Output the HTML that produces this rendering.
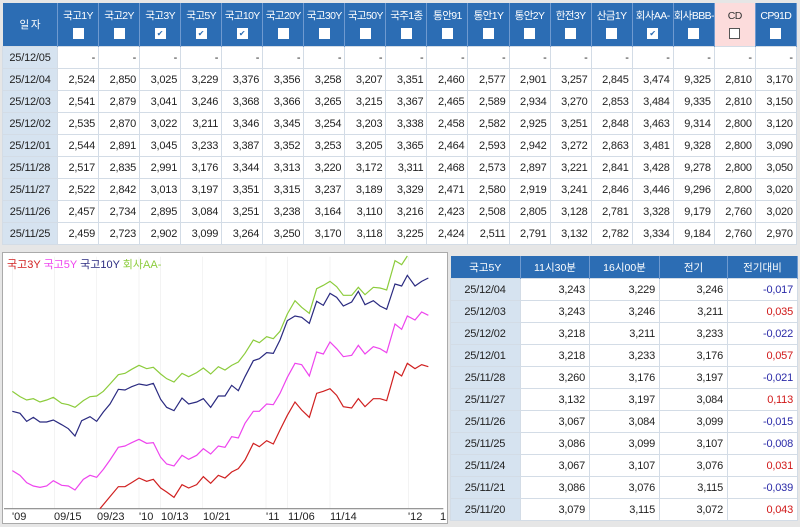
<!DOCTYPE html>
<html><head><meta charset="utf-8">
<style>
body{margin:0;width:800px;height:527px;background:#e6e6e6;font-family:"Liberation Sans","Noto Sans CJK KR",sans-serif;font-size:11px;overflow:hidden;position:relative;color:#222}
table{border-collapse:collapse;table-layout:fixed;position:absolute}
td,th{padding:0 3px;white-space:nowrap;overflow:hidden}
td{letter-spacing:-0.2px}
#t1{left:2px;top:3px;width:794px}
#t1 th{background:#2c6db4;color:#fff;font-weight:normal;height:43px;border-right:1px solid #6f9ad0;text-align:center;line-height:18px;padding:0;font-size:10.5px;letter-spacing:-0.6px}
#t1 th.cd{background:#fcdcdc;color:#333}
#t1 td{height:21px;border:1px solid #d3dce6;text-align:right;background:#fff}
#t1 td.d,#t2 td.d{background:#d6e3f0;text-align:center}
.cb{display:inline-block;width:9px;height:9px;background:#fff;border:1px solid #fff;font-size:8px;line-height:9px;color:#2c6db4;vertical-align:middle;letter-spacing:0}
.cd .cb{border:1px solid #555;background:#fff}
#t2{left:450px;top:256px;width:347px}
#t2 th{background:#2c6db4;color:#fff;font-weight:normal;height:22px;border-right:1px solid #6f9ad0;text-align:center;padding:0;font-size:10.5px}
#t2 td{height:21px;border:1px solid #d3dce6;text-align:right;background:#fff;padding-right:4px}
.r{color:#d01818}.b{color:#2a2aa8}
#chart{position:absolute;left:2px;top:252px;width:444px;height:270px;background:#fff;border:1px solid #aaa}
</style></head><body>
<table id="t1">
<colgroup><col style="width:55px"><col span="18" style="width:41.05px"></colgroup>
<tr><th>일 자</th><th>국고1Y<br><span class="cb"></span></th><th>국고2Y<br><span class="cb"></span></th><th>국고3Y<br><span class="cb">✔</span></th><th>국고5Y<br><span class="cb">✔</span></th><th>국고10Y<br><span class="cb">✔</span></th><th>국고20Y<br><span class="cb"></span></th><th>국고30Y<br><span class="cb"></span></th><th>국고50Y<br><span class="cb"></span></th><th>국주1종<br><span class="cb"></span></th><th>통안91<br><span class="cb"></span></th><th>통안1Y<br><span class="cb"></span></th><th>통안2Y<br><span class="cb"></span></th><th>한전3Y<br><span class="cb"></span></th><th>산금1Y<br><span class="cb"></span></th><th>회사AA-<br><span class="cb">✔</span></th><th>회사BBB-<br><span class="cb"></span></th><th class="cd">CD<br><span class="cb"></span></th><th>CP91D<br><span class="cb"></span></th></tr>
<tr><td class="d">25/12/05</td><td>-</td><td>-</td><td>-</td><td>-</td><td>-</td><td>-</td><td>-</td><td>-</td><td>-</td><td>-</td><td>-</td><td>-</td><td>-</td><td>-</td><td>-</td><td>-</td><td>-</td><td>-</td></tr>
<tr><td class="d">25/12/04</td><td>2,524</td><td>2,850</td><td>3,025</td><td>3,229</td><td>3,376</td><td>3,356</td><td>3,258</td><td>3,207</td><td>3,351</td><td>2,460</td><td>2,577</td><td>2,901</td><td>3,257</td><td>2,845</td><td>3,474</td><td>9,325</td><td>2,810</td><td>3,170</td></tr>
<tr><td class="d">25/12/03</td><td>2,541</td><td>2,879</td><td>3,041</td><td>3,246</td><td>3,368</td><td>3,366</td><td>3,265</td><td>3,215</td><td>3,367</td><td>2,465</td><td>2,589</td><td>2,934</td><td>3,270</td><td>2,853</td><td>3,484</td><td>9,335</td><td>2,810</td><td>3,150</td></tr>
<tr><td class="d">25/12/02</td><td>2,535</td><td>2,870</td><td>3,022</td><td>3,211</td><td>3,346</td><td>3,345</td><td>3,254</td><td>3,203</td><td>3,338</td><td>2,458</td><td>2,582</td><td>2,925</td><td>3,251</td><td>2,848</td><td>3,463</td><td>9,314</td><td>2,800</td><td>3,120</td></tr>
<tr><td class="d">25/12/01</td><td>2,544</td><td>2,891</td><td>3,045</td><td>3,233</td><td>3,387</td><td>3,352</td><td>3,253</td><td>3,205</td><td>3,365</td><td>2,464</td><td>2,593</td><td>2,942</td><td>3,272</td><td>2,863</td><td>3,481</td><td>9,328</td><td>2,800</td><td>3,090</td></tr>
<tr><td class="d">25/11/28</td><td>2,517</td><td>2,835</td><td>2,991</td><td>3,176</td><td>3,344</td><td>3,313</td><td>3,220</td><td>3,172</td><td>3,311</td><td>2,468</td><td>2,573</td><td>2,897</td><td>3,221</td><td>2,841</td><td>3,428</td><td>9,278</td><td>2,800</td><td>3,050</td></tr>
<tr><td class="d">25/11/27</td><td>2,522</td><td>2,842</td><td>3,013</td><td>3,197</td><td>3,351</td><td>3,315</td><td>3,237</td><td>3,189</td><td>3,329</td><td>2,471</td><td>2,580</td><td>2,919</td><td>3,241</td><td>2,846</td><td>3,446</td><td>9,296</td><td>2,800</td><td>3,020</td></tr>
<tr><td class="d">25/11/26</td><td>2,457</td><td>2,734</td><td>2,895</td><td>3,084</td><td>3,251</td><td>3,238</td><td>3,164</td><td>3,110</td><td>3,216</td><td>2,423</td><td>2,508</td><td>2,805</td><td>3,128</td><td>2,781</td><td>3,328</td><td>9,179</td><td>2,760</td><td>3,020</td></tr>
<tr><td class="d">25/11/25</td><td>2,459</td><td>2,723</td><td>2,902</td><td>3,099</td><td>3,264</td><td>3,250</td><td>3,170</td><td>3,118</td><td>3,225</td><td>2,424</td><td>2,511</td><td>2,791</td><td>3,132</td><td>2,782</td><td>3,334</td><td>9,184</td><td>2,760</td><td>2,970</td></tr>
</table>

<div id="chart"></div>
<svg style="position:absolute;left:0;top:0" width="800" height="527">
<g transform="translate(0,230) scale(0.33333)" fill="none" stroke-width="1.2">
<g stroke="#e2e2e2" vector-effect="non-scaling-stroke">
<line x1="37" y1="80" x2="37" y2="836"/><line x1="163" y1="80" x2="163" y2="836"/><line x1="290" y1="80" x2="290" y2="836"/><line x1="417" y1="80" x2="417" y2="836"/><line x1="481" y1="80" x2="481" y2="836"/><line x1="608" y1="80" x2="608" y2="836"/><line x1="798" y1="80" x2="798" y2="836"/><line x1="863" y1="80" x2="863" y2="836"/><line x1="990" y1="80" x2="990" y2="836"/><line x1="1225" y1="80" x2="1225" y2="836"/>
</g>
<line x1="12" y1="836" x2="1330" y2="836" stroke="#888" vector-effect="non-scaling-stroke"/>
<polyline vector-effect="non-scaling-stroke" stroke="#8ccc3c" points="37,484 60,500 80,510 100,506 120,516 140,510 160,502 185,520 205,524 225,532 250,512 270,500 290,498 310,484 330,462 355,434 375,430 395,418 417,406 440,416 460,412 482,432 500,446 522,456 546,430 566,440 590,428 610,414 632,432 655,410 675,420 695,406 715,396 735,370 760,330 778,338 800,320 820,326 840,304 862,252 885,212 905,232 928,250 950,176 970,166 990,154 1010,170 1030,196 1055,196 1075,172 1095,194 1120,172 1140,174 1160,180 1185,92 1205,104 1222,78"/>
<polyline vector-effect="non-scaling-stroke" stroke="#2a2a80" points="37,544 60,550 80,574 100,562 120,576 140,576 160,570 185,584 205,596 225,618 245,572 270,560 290,574 310,546 330,522 355,478 375,480 395,470 417,462 440,466 460,460 482,508 500,532 522,542 546,504 566,522 590,516 610,506 632,532 655,498 675,498 695,466 715,482 735,440 760,392 778,386 800,368 820,370 840,330 862,272 885,258 905,262 928,280 950,214 970,226 990,190 1010,202 1030,228 1055,216 1075,184 1095,224 1120,212 1140,228 1160,238 1185,162 1205,168 1222,136 1245,168 1265,154 1285,144"/>
<polyline vector-effect="non-scaling-stroke" stroke="#ee44ee" points="37,722 60,736 80,758 100,768 120,772 140,768 160,752 185,766 205,768 225,780 250,748 270,736 290,742 310,718 330,690 355,652 375,648 395,638 417,628 440,640 460,638 482,682 500,702 522,708 546,676 566,688 590,676 610,656 632,672 655,648 675,652 695,620 715,624 735,580 760,544 778,544 800,522 820,524 840,490 862,442 885,400 905,404 928,438 950,366 970,372 990,336 1010,356 1030,380 1055,376 1075,346 1095,372 1120,350 1140,356 1160,368 1185,282 1205,298 1222,258 1245,270 1265,246 1285,256"/>
<polyline vector-effect="non-scaling-stroke" stroke="#d02020" points="300,836 330,800 355,770 375,770 395,758 417,744 440,754 460,748 482,774 500,786 522,802 546,764 566,774 590,764 610,740 632,760 655,736 675,744 695,726 715,716 735,690 760,640 778,650 800,632 820,642 840,600 862,556 885,516 905,540 928,562 950,490 970,484 990,476 1010,496 1030,530 1055,534 1075,506 1095,530 1120,506 1140,506 1160,512 1185,424 1205,438 1222,400 1245,416 1265,404 1285,410"/>
</g>
<g font-family="Liberation Sans, Noto Sans CJK KR, sans-serif" font-size="11" fill="#222">
<text x="12" y="520">'09</text><text x="54" y="520">09/15</text><text x="97" y="520">09/23</text><text x="139" y="520">'10</text><text x="161" y="520">10/13</text><text x="203" y="520">10/21</text><text x="266" y="520">'11</text><text x="288" y="520">11/06</text><text x="330" y="520">11/14</text><text x="408" y="520">'12</text><text x="440" y="520">1</text>
<text x="7" y="268"><tspan fill="#d02020">국고3Y </tspan><tspan fill="#ee44ee">국고5Y </tspan><tspan fill="#2a2a80">국고10Y </tspan><tspan fill="#8ccc3c">회사AA-</tspan></text>
</g>
</svg>

<table id="t2">
<colgroup><col style="width:70px"><col style="width:69px"><col style="width:70px"><col style="width:68px"><col style="width:70px"></colgroup>
<tr><th>국고5Y</th><th>11시30분</th><th>16시00분</th><th>전기</th><th>전기대비</th></tr>
<tr><td class="d">25/12/04</td><td>3,243</td><td>3,229</td><td>3,246</td><td class="b">-0,017</td></tr>
<tr><td class="d">25/12/03</td><td>3,243</td><td>3,246</td><td>3,211</td><td class="r">0,035</td></tr>
<tr><td class="d">25/12/02</td><td>3,218</td><td>3,211</td><td>3,233</td><td class="b">-0,022</td></tr>
<tr><td class="d">25/12/01</td><td>3,218</td><td>3,233</td><td>3,176</td><td class="r">0,057</td></tr>
<tr><td class="d">25/11/28</td><td>3,260</td><td>3,176</td><td>3,197</td><td class="b">-0,021</td></tr>
<tr><td class="d">25/11/27</td><td>3,132</td><td>3,197</td><td>3,084</td><td class="r">0,113</td></tr>
<tr><td class="d">25/11/26</td><td>3,067</td><td>3,084</td><td>3,099</td><td class="b">-0,015</td></tr>
<tr><td class="d">25/11/25</td><td>3,086</td><td>3,099</td><td>3,107</td><td class="b">-0,008</td></tr>
<tr><td class="d">25/11/24</td><td>3,067</td><td>3,107</td><td>3,076</td><td class="r">0,031</td></tr>
<tr><td class="d">25/11/21</td><td>3,086</td><td>3,076</td><td>3,115</td><td class="b">-0,039</td></tr>
<tr><td class="d">25/11/20</td><td>3,079</td><td>3,115</td><td>3,072</td><td class="r">0,043</td></tr>
</table>
</body></html>
